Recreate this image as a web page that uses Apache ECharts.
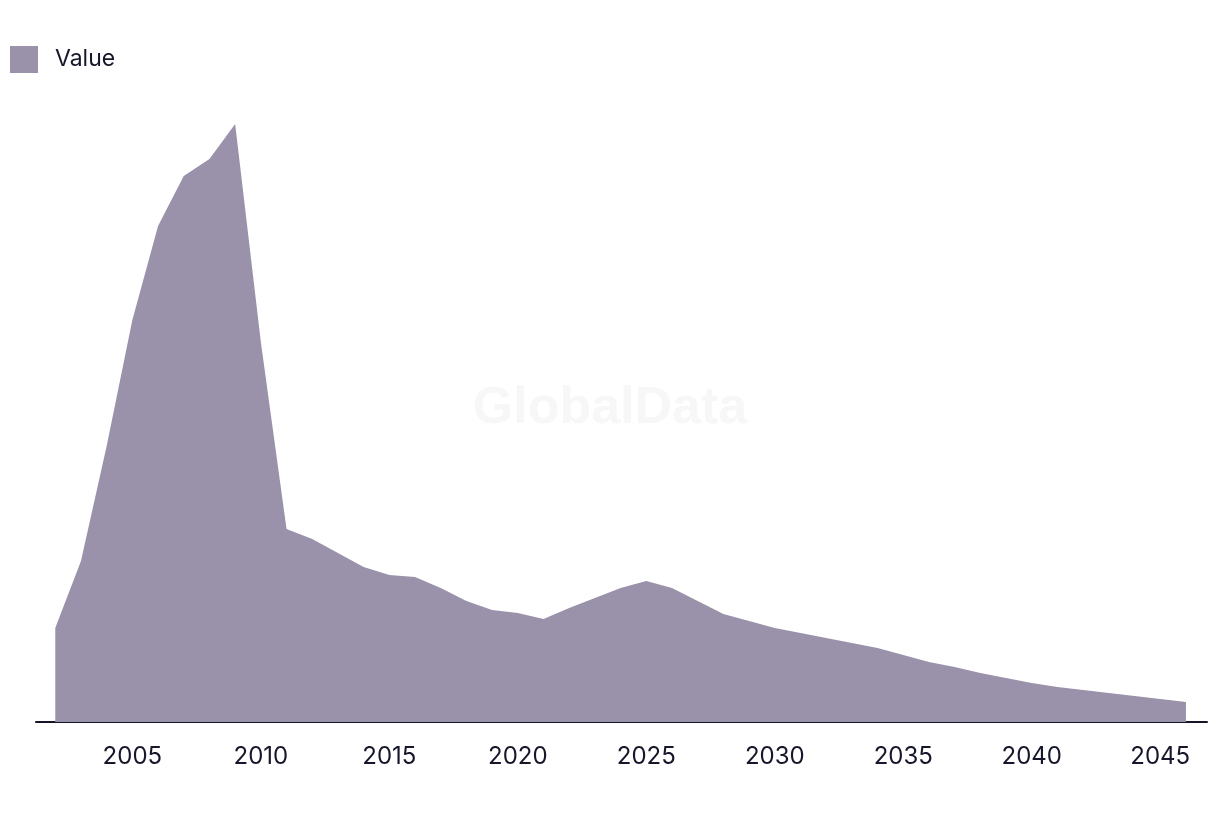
<!DOCTYPE html>
<html>
<head>
<meta charset="utf-8">
<script src="https://cdn.jsdelivr.net/npm/echarts@6/dist/echarts.min.js"></script>
<style>
html,body{margin:0;padding:0;background:#fff;}
#chart{width:1220px;height:814px;}
</style>
</head>
<body>
<div id="chart"></div>
<script>
const years = [2002,2003,2004,2005,2006,2007,2008,2009,2010,2011,2012,2013,2014,2015,2016,2017,2018,2019,2020,2021,2022,2023,2024,2025,2026,2027,2028,2029,2030,2031,2032,2033,2034,2035,2036,2037,2038,2039,2040,2041,2042,2043,2044,2045,2046];
const values = [94,161,276,402,496,546,563,598,380,193,183,169,155,147,145,134,121,112,109,103,114,124,134,141,134,121,108,101,94,89,84,79,74,67,60,55,49,44,39,35,32,29,26,23,20];
const tickYears = [2005,2010,2015,2020,2025,2030,2035,2040,2045];
const seriesName = 'Value';

const chart = echarts.init(document.getElementById('chart'), null, {renderer:'canvas'});
const fontFamily = 'Inter, "Liberation Sans", sans-serif';
chart.setOption({
  animation:false,
  backgroundColor:'#ffffff',
  legend:{
    show:true,
    left:10, top:46,
    padding:0,
    icon:'rect',
    itemWidth:28, itemHeight:27,
    textStyle:{color:'#17172b', fontSize:23, fontFamily:fontFamily, padding:[0,0,0,12]},
    data:[seriesName]
  },
  graphic:[{
    type:'text',
    left:'center',
    top:383,
    silent:true,
    style:{text:'GlobalData', fill:'#f7f7f7', font:'bold 52px "Liberation Sans", Arial, sans-serif'}
  }],
  grid:{left:36, right:13, top:124, bottom:92, containLabel:false},
  xAxis:{
    type:'value',
    min:2001.25, max:2046.82,
    axisLine:{show:true, lineStyle:{color:'#15152a', width:2}},
    axisTick:{show:false},
    splitLine:{show:false},
    axisLabel:{
      customValues:tickYears,
      color:'#17172b', fontSize:24, fontFamily:fontFamily, margin:23,
      formatter:function(v){return String(v);}
    }
  },
  yAxis:{
    type:'value', min:0, max:598,
    show:false,
    splitLine:{show:false}
  },
  series:[{
    name:seriesName,
    type:'line',
    data:years.map((y,i)=>[y, values[i]]),
    symbol:'none',
    lineStyle:{width:0, color:'#9a91aa'},
    itemStyle:{color:'#9a91aa'},
    areaStyle:{color:'#9a91aa', opacity:1}
  }]
});
</script>
</body>
</html>
